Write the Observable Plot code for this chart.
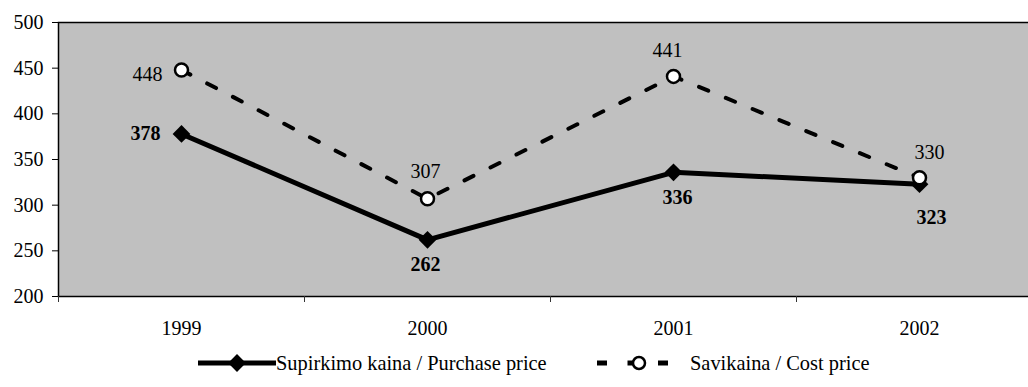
<!DOCTYPE html>
<html>
<head>
<meta charset="utf-8">
<script src="https://cdn.jsdelivr.net/npm/d3@7"></script>
<script src="https://cdn.jsdelivr.net/npm/@observablehq/plot@0.6"></script>
<style>
  html, body { margin: 0; padding: 0; background: white; }
  #wrap { width: 1028px; height: 387px; overflow: hidden; position: relative; font-family: 'Liberation Serif', 'Times New Roman', serif; }
  #wrap svg, #wrap svg text { font-family: 'Liberation Serif', 'Times New Roman', serif !important; }
  #chart { width: 1042px; }
  #chart svg { max-width: none !important; width: 1042px !important; height: 345px !important; }
  #legend { position: absolute; left: 0; top: 345px; }
</style>
</head>
<body>
<div id="wrap"><div id="chart"></div><div id="legend"></div></div>
<script>
const years = [1999, 2000, 2001, 2002];
const purchase = [378, 262, 336, 323];
const cost = [448, 307, 441, 330];
const yTicks = [200, 250, 300, 350, 400, 450, 500];
const seriesNames = ["Supirkimo kaina / Purchase price", "Savikaina / Cost price"];

const rows = years.map((year, i) => ({year, purchase: purchase[i], cost: cost[i]}));
const boundaries = years.map(y => y - 0.5).concat([years[years.length - 1] + 0.5]);

// label placements (style only)
const purchasePlace = [
  {textAnchor: "end", dx: -21, dy: 0},
  {textAnchor: "middle", dx: -2, dy: 25},
  {textAnchor: "middle", dx: 4, dy: 25},
  {textAnchor: "middle", dx: 12, dy: 33}
];
const costPlace = [
  {textAnchor: "end", dx: -19, dy: 5},
  {textAnchor: "middle", dx: -2, dy: -27},
  {textAnchor: "middle", dx: -6, dy: -26},
  {textAnchor: "middle", dx: 10, dy: -25}
];

const labelMarks = [];
rows.forEach((r, i) => {
  labelMarks.push(Plot.text([r], {x: "year", y: "purchase", text: d => String(d.purchase),
    fontWeight: "bold", fill: "black", ...purchasePlace[i]}));
  labelMarks.push(Plot.text([r], {x: "year", y: "cost", text: d => String(d.cost),
    fill: "black", ...costPlace[i]}));
});

const chart = Plot.plot({
  width: 1042,
  height: 345,
  marginLeft: 58,
  marginRight: 0,
  marginTop: 22,
  marginBottom: 49,
  style: {fontFamily: "'Liberation Serif', 'Times New Roman', serif", fontSize: "20px", color: "black", background: "white", overflow: "visible", maxWidth: "none"},
  x: {type: "linear", domain: [boundaries[0], boundaries[boundaries.length - 1]], label: null},
  y: {domain: [yTicks[0], yTicks[yTicks.length - 1]], label: null},
  marks: [
    Plot.frame({fill: "#c0c0c0", stroke: "black", strokeWidth: 1.5}),
    Plot.axisY({ticks: yTicks, tickSize: 6, tickPadding: 9, tickFormat: d => String(d), stroke: "black", strokeOpacity: 1, label: null}),
    Plot.axisX({ticks: years, tickSize: 0, tickPadding: 24.5, tickFormat: d => String(d), label: null}),
    Plot.axisX({ticks: boundaries, tickSize: 6, tickFormat: () => "", stroke: "#333", strokeOpacity: 1, label: null}),
    Plot.line(rows, {x: "year", y: "purchase", stroke: "black", strokeWidth: 5}),
    Plot.line(rows, {x: "year", y: "cost", stroke: "black", strokeWidth: 4, strokeDasharray: "10,19"}),
    Plot.dot(rows, {x: "year", y: "purchase", symbol: "diamond2", r: 8, fill: "black"}),
    Plot.dot(rows, {x: "year", y: "cost", r: 6.5, fill: "white", stroke: "black", strokeWidth: 2.5}),
    ...labelMarks
  ]
});
document.getElementById("chart").appendChild(chart);

// Legend
const lg = d3.select("#legend").append("svg").attr("width", 1028).attr("height", 42)
  .style("font-family", "'Liberation Serif', 'Times New Roman', serif").style("font-size", "20.4px");
const ly = 18;
lg.append("line").attr("x1", 198).attr("x2", 276).attr("y1", ly).attr("y2", ly).attr("stroke", "black").attr("stroke-width", 5);
lg.append("path").attr("d", d3.symbol(d3.symbolDiamond2, 8 * 8 * Math.PI)()).attr("transform", `translate(237,${ly})`).attr("fill", "black");
lg.append("text").attr("x", 276).attr("y", ly).attr("dy", "0.32em").text(seriesNames[0]);
lg.append("line").attr("x1", 597).attr("x2", 669).attr("y1", ly).attr("y2", ly).attr("stroke", "black").attr("stroke-width", 5).attr("stroke-dasharray", "10,20.5");
lg.append("circle").attr("cx", 639).attr("cy", ly).attr("r", 6).attr("fill", "white").attr("stroke", "black").attr("stroke-width", 2.5);
lg.append("text").attr("x", 690).attr("y", ly).attr("dy", "0.32em").text(seriesNames[1]);
</script>
</body>
</html>
